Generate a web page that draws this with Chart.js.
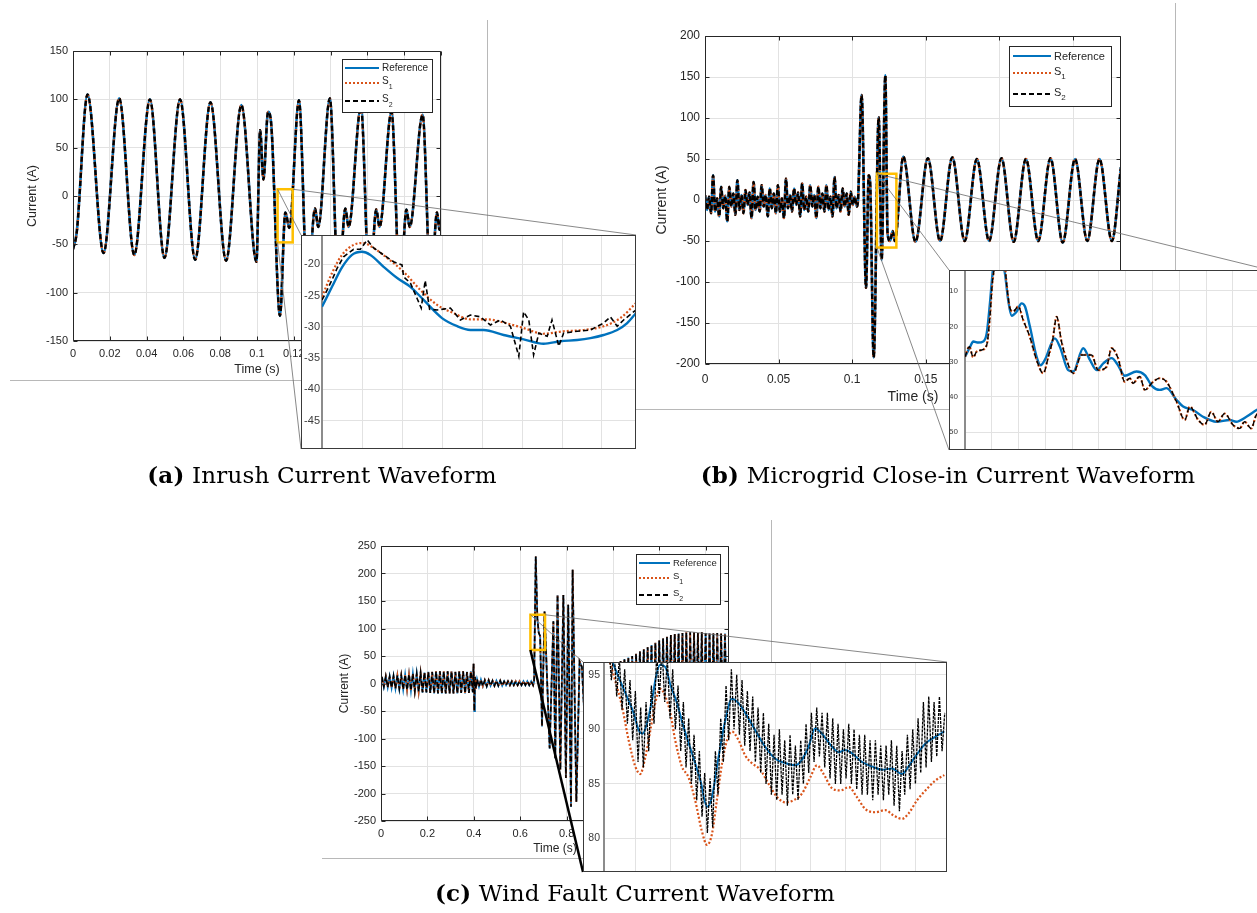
<!DOCTYPE html>
<html>
<head>
<meta charset="utf-8">
<script src="https://cdn.jsdelivr.net/npm/chart.js@4.4.1/dist/chart.umd.min.js"></script>
<style>
  html, body { margin: 0; padding: 0; background: #fff; }
  body { width: 1257px; height: 913px; position: relative; overflow: hidden; }
  canvas { position: absolute; }
  .inset { position: absolute; box-sizing: border-box; border: 1px solid #3a3a3a; background: #fff; overflow: hidden; }
  .inset canvas { left: 0; top: 0; }
  .caption { position: absolute; font-family: 'DejaVu Serif', serif; font-size: 23px; line-height: 26px;
             letter-spacing: 0.2px; color: #000; white-space: nowrap; transform: translateX(-50%); z-index: 5; }
</style>
</head>
<body>
<canvas id="frames" width="1257" height="913" style="left:0;top:0;z-index:0"></canvas>
<canvas id="mainA" style="z-index:1"></canvas>
<canvas id="mainB" style="z-index:1"></canvas>
<canvas id="mainC" style="z-index:1"></canvas>
<canvas id="links" width="1257" height="913" style="left:0;top:0;z-index:2"></canvas>
<div class="inset" id="insetABox" style="left:301px;top:235px;width:335px;height:214px;z-index:3"><canvas id="insetA" width="333" height="212"></canvas></div>
<div class="inset" id="insetBBox" style="left:949px;top:270px;width:320px;height:180px;z-index:3"><canvas id="insetB" width="318" height="178"></canvas></div>
<div class="inset" id="insetCBox" style="left:583px;top:662px;width:364px;height:210px;z-index:3"><canvas id="insetC" width="362" height="208"></canvas></div>
<div class="caption" style="left:322px;top:462px"><b>(a)</b> Inrush Current Waveform</div>
<div class="caption" style="left:948px;top:462px"><b>(b)</b> Microgrid Close-in Current Waveform</div>
<div class="caption" style="left:635px;top:880px"><b>(c)</b> Wind Fault Current Waveform</div>
<script>
// ---------- (a) inrush: extremes of the waveform (S1 and S2 lie on the reference at this scale)
const aTime = [0, 0.002, 0.0079, 0.0166, 0.0251, 0.0333, 0.0418, 0.0497, 0.0582, 0.0664, 0.0747, 0.0832,
  0.0915, 0.0997, 0.1017, 0.1035, 0.1060, 0.1077, 0.1125, 0.1154, 0.1176, 0.1228, 0.1275, 0.1315, 0.1333,
  0.1396, 0.1443, 0.1480, 0.1498, 0.1565, 0.1612, 0.1648, 0.1666, 0.1731, 0.1778, 0.1812, 0.1830, 0.1900,
  0.1945, 0.1978, 0.1992, 0.2000];
const aCurrent = [-55, -38, 105, -59, 101, -61, 100, -64, 100, -66, 97, -67, 94, -68, 68, 17, 87, 75, -124,
  -17, -33, 99, -100, -13, -32, 101, -100, -13, -32, 92, -100, -14, -32, 87, -100, -14, -32, 84, -100, -17,
  -35, -25];

// (a) zoomed window
const aInsetRefT = [0.11100, 0.11125, 0.11150, 0.11175, 0.11200, 0.11221, 0.11254, 0.11288, 0.11321, 0.11354,
  0.11400, 0.11438, 0.11471, 0.11504, 0.11554, 0.11604, 0.11654, 0.11696, 0.11738, 0.11771, 0.11804, 0.11838,
  0.11863, 0.11885];
const aInsetRef = [-26.8, -23.6, -20.5, -18.5, -18.0, -18.5, -20.4, -22.2, -23.6, -25.7, -28.6, -29.9, -30.5,
  -30.5, -31.3, -32.0, -32.7, -32.3, -32.1, -31.8, -31.3, -30.5, -29.4, -27.8];
const aInsetS1T = [0.11100, 0.11125, 0.11150, 0.11179, 0.11204, 0.11229, 0.11263, 0.11304, 0.11346, 0.11388,
  0.11429, 0.11471, 0.11513, 0.11554, 0.11604, 0.11654, 0.11704, 0.11754, 0.11804, 0.11846, 0.11885];
const aInsetS1 = [-25.2, -21.4, -18.5, -16.9, -16.6, -17.4, -19.0, -21.2, -24.1, -26.5, -27.8, -28.8, -28.8,
  -29.3, -30.2, -31.1, -30.7, -30.5, -29.9, -28.6, -26.2];
const aInsetS2T = [0.11100, 0.11113, 0.11125, 0.11138, 0.11154, 0.11179, 0.11196, 0.11213, 0.11229, 0.11254,
  0.11279, 0.11300, 0.11304, 0.11321, 0.11338, 0.11348, 0.11358, 0.11369, 0.11388, 0.11421, 0.11446, 0.11471,
  0.11496, 0.11521, 0.11546, 0.11571, 0.11592, 0.11604, 0.11617, 0.11629, 0.11642, 0.11663, 0.11675, 0.11692,
  0.11704, 0.11738, 0.11771, 0.11804, 0.11821, 0.11838, 0.11854, 0.11885];
const aInsetS2 = [-25.7, -24.1, -22.5, -20.6, -18.8, -17.6, -17.6, -16.1, -17.4, -18.5, -19.6, -20.1, -22.0,
  -23.0, -25.5, -27.0, -22.6, -27.2, -27.3, -27.0, -28.9, -28.1, -28.4, -29.7, -28.9, -29.9, -34.7, -27.6,
  -28.9, -34.5, -31.0, -31.5, -28.9, -33.1, -31.0, -30.7, -30.5, -29.4, -28.4, -29.9, -28.9, -27.3];

// ---------- (b) microgrid close-in
const bPreFaultStep = 0.001375;   // spacing of the readings below, from t = 0
const bPreFault = [6, -12, 4, -16, 30, -14, 2, -20, 16, -10, 5, -26, 16, -8, 8, -18, 24, -12, 6, -16, 12, -6,
  9, -22, 22, -12, 4, -14, 18, -8, 6, -20, 14, -10, 8, -16, 18, -14, 2, -22, 26, -10, 6, -14, 14, -6, 9, -20,
  20, -12, 4, -14, 18, -8, 6, -22, 16, -10, 8, -14, 18, -12, 4, -20, 28, -10, 6, -14, 14, -8, 8, -18, 10, -6,
  4, -8];
const bFaultT = [0.1040, 0.1064, 0.1094, 0.1112, 0.1122, 0.1146, 0.1180, 0.1200, 0.1225, 0.1240, 0.1257,
  0.1275, 0.1290];
const bFaultV = [2, 128, -107, 30, 20, -192, 101, -73, 152, -40, -50, -38, -50];
const bPostT = [0.1347, 0.1430, 0.1514, 0.1597, 0.1680, 0.1764, 0.1847, 0.1930, 0.2014, 0.2097, 0.2180,
  0.2264, 0.2347, 0.2430, 0.2514, 0.2597, 0.2680, 0.2764, 0.2826];
const bPostV = [53, -51, 51, -50, 52, -50, 50, -50, 51, -51, 50, -50, 51, -52, 50, -50, 50, -50, 40];

const bInsetRefT = [0.11700, 0.11719, 0.11731, 0.11750, 0.11768, 0.11781, 0.11793, 0.11803, 0.11824, 0.11849,
  0.11861, 0.11874, 0.11893, 0.11911, 0.11924, 0.11942, 0.11967, 0.11982, 0.11998, 0.12035, 0.12054, 0.12085,
  0.12104, 0.12141, 0.12166, 0.12191, 0.12216, 0.12247, 0.12271, 0.12296, 0.12340, 0.12371, 0.12399, 0.12427,
  0.12452, 0.12489, 0.12514, 0.12551, 0.12588, 0.12638, 0.12688, 0.12712, 0.12750, 0.12788, 0.12830];
const bInsetRef = [-28.6, -25.8, -24.3, -24.6, -24.3, -22, -13.5, -5, 3, -5, -12.5, -17, -15.8, -13.5, -14.4,
  -20, -28.6, -31, -29.5, -23.4, -25.8, -32.4, -32.8, -26.2, -29.5, -32.4, -30.5, -29, -31, -34, -32.8, -33.8,
  -37, -38, -37.5, -40.8, -42.7, -43.7, -45.6, -47, -46.5, -47, -45.6, -43.7, -42];
// S1 and S2 coincide in this window
const bInsetST = [0.11700, 0.11716, 0.11731, 0.11743, 0.11762, 0.11781, 0.11793, 0.11803, 0.11843, 0.11855,
  0.11868, 0.11880, 0.11899, 0.11917, 0.11942, 0.11967, 0.11992, 0.12011, 0.12027, 0.12042, 0.12060, 0.12079,
  0.12104, 0.12135, 0.12172, 0.12197, 0.12228, 0.12247, 0.12271, 0.12296, 0.12315, 0.12327, 0.12352, 0.12371,
  0.12402, 0.12427, 0.12452, 0.12489, 0.12520, 0.12539, 0.12570, 0.12594, 0.12619, 0.12644, 0.12669, 0.12700,
  0.12725, 0.12743, 0.12768, 0.12788, 0.12830];
const bInsetS = [-28.6, -25.8, -28.8, -27.2, -26.7, -25.3, -17.3, -7, 2, -7.8, -14.9, -15.8, -14.4, -18.2, -23,
  -29.5, -33.3, -28.6, -23.9, -17.3, -24.3, -29.5, -33.3, -28.1, -28.1, -32.4, -31.5, -26.2, -29, -35.7, -34.7,
  -36.1, -34.2, -38, -35.7, -34.7, -35.7, -41.3, -46.5, -42.7, -46.5, -47.9, -44.2, -47, -44.7, -47.9, -48.9,
  -47, -48.9, -45, -44];

// ---------- (c) wind fault: 60 Hz stretches listed as peak / trough per cycle
const cEarlyStart = 0.004;
const cEarlyPeaks = [12, 13, 13, 14, 15, 15, 16, 17, 18, 18, 19, 20, 21, 21, 22, 22, 22, 22, 22, 21, 22, 22, 21, 22];
const cEarlyTroughs = [-6, -7, -8, -9, -10, -11, -12, -13, -14, -15, -16, -16, -17, -18, -18, -18, -18, -18, -18,
  -18, -17, -18, -17, -16];
const cSpikeT = [0.399, 0.402, 0.405, 0.409, 0.413];
const cSpikeV = [36, -50, 12, -10, 5];
const cQuietStart = 0.414;
const cQuietPeaks = [8, 7, 6, 6, 5, 5, 5, 4, 4, 4, 4, 4, 4, 4, 4];
const cQuietTroughs = [-6, -5, -5, -4, -4, -4, -4, -3, -3, -3, -3, -3, -3, -3, -3];
const cFaultT = [0.660, 0.667, 0.674, 0.680, 0.686, 0.694, 0.705, 0.727, 0.743, 0.751, 0.761, 0.773, 0.786,
  0.797, 0.807, 0.819, 0.826, 0.842, 0.856];
const cFaultV = [4, 231, 118, 92, 86, -78, 131, -118, 113, -136, 161, -157, 161, -172, 143, -224, 207, -215, 40];
const cLateStart = 0.866;
const cLatePeaks = [30, 28, 30, 31, 32, 33, 34, 35, 37, 39, 41, 44, 47, 50, 54, 58, 62, 66, 70, 74, 78, 82, 85,
  88, 90, 91, 92, 93, 93, 93, 92, 93, 92, 92, 91, 92, 91, 91];
const cLateTroughs = [-40, -36, -34, -33, -34, -35, -36, -37, -39, -41, -43, -46, -49, -52, -56, -60, -64, -68,
  -72, -76, -80, -84, -87, -89, -91, -92, -93, -93, -94, -93, -93, -92, -93, -92, -92, -93, -92, -92];
const cEndT = [1.5];
const cEndV = [55];

const cInsetRefT = [0.64424, 0.64452, 0.64476, 0.64495, 0.64510, 0.64521, 0.64533, 0.64548, 0.64559, 0.64571,
  0.64586, 0.64600, 0.64619, 0.64638, 0.64662, 0.64686, 0.64705, 0.64719, 0.64738, 0.64757, 0.64776, 0.64795,
  0.64814, 0.64843, 0.64871, 0.64900, 0.64929, 0.64957, 0.64976, 0.64995, 0.65014, 0.65033, 0.65062, 0.65081,
  0.65100, 0.65119, 0.65148, 0.65176, 0.65205, 0.65233, 0.65262, 0.65281, 0.65300, 0.65329, 0.65357, 0.65383];
const cInsetRef = [97, 94.8, 93.0, 91.5, 89.9, 89.6, 90.5, 92.7, 94.8, 95.9, 95.7, 94.1, 92.4, 90.2, 87.8, 85.3,
  82.9, 83.8, 87.5, 90.8, 92.8, 92.4, 91.5, 89.9, 88.4, 87.3, 86.9, 86.7, 87.2, 88.4, 90.1, 89.6, 88.4, 87.9,
  88.1, 87.8, 87.0, 86.6, 86.3, 86.4, 85.9, 86.6, 87.5, 88.7, 89.3, 89.8];
const cInsetS1T = [0.64424, 0.64443, 0.64462, 0.64481, 0.64500, 0.64514, 0.64529, 0.64543, 0.64557, 0.64571,
  0.64586, 0.64600, 0.64614, 0.64633, 0.64652, 0.64671, 0.64690, 0.64705, 0.64719, 0.64733, 0.64748, 0.64762,
  0.64776, 0.64795, 0.64814, 0.64833, 0.64857, 0.64881, 0.64905, 0.64929, 0.64952, 0.64976, 0.65000, 0.65019,
  0.65038, 0.65062, 0.65086, 0.65110, 0.65133, 0.65157, 0.65186, 0.65214, 0.65238, 0.65262, 0.65281, 0.65305,
  0.65329, 0.65357, 0.65383];
const cInsetS1 = [96.5, 94.4, 92.1, 89.0, 86.6, 85.9, 87.5, 89.9, 92.4, 93.7, 93.0, 91.5, 89.0, 86.6, 85.6, 83.5,
  80.7, 79.4, 80.4, 83.5, 86.9, 89.0, 89.8, 89.0, 87.6, 86.9, 86.3, 85.0, 83.8, 83.3, 83.5, 84.1, 85.6, 86.7,
  85.9, 84.6, 84.4, 84.7, 83.8, 82.7, 82.4, 82.6, 82.1, 81.8, 82.3, 83.5, 84.4, 85.3, 85.8];
const cInsetS2Start = 0.64424, cInsetS2Step = 0.0000762;   // S2 readings, evenly spaced
const cInsetS2 = [98, 94.5, 97.5, 93.0, 96.5, 91.8, 95.5, 90.5, 94.5, 89.0,
  93.5, 87.0, 92.0, 86.5, 92.5, 88.0, 94.0, 90.5, 97.0, 93.0,
  97.5, 92.5, 96.5, 91.0, 95.5, 90.0, 94.0, 88.0, 92.5, 86.5,
  91.0, 85.0, 89.5, 83.5, 88.0, 82.0, 86.0, 80.5, 85.5, 81.0,
  88.0, 84.0, 91.0, 87.0, 94.0, 89.0, 95.5, 90.0, 95.0, 89.5,
  94.5, 88.5, 93.5, 88.0, 93.0, 87.0, 92.0, 86.0, 91.5, 85.0,
  90.5, 84.0, 89.5, 83.5, 90.0, 84.0, 89.0, 83.0, 89.5, 84.0,
  88.5, 83.5, 89.0, 85.0, 90.5, 86.0, 91.5, 87.0, 92.0, 87.5,
  91.5, 86.5, 91.5, 85.5, 91.0, 85.0, 90.5, 85.0, 90.0, 85.5,
  90.5, 85.0, 90.0, 84.5, 89.5, 84.0, 89.5, 84.0, 89.0, 83.5,
  89.0, 84.0, 88.5, 83.5, 88.5, 84.0, 89.0, 83.0, 88.5, 82.5,
  88.0, 84.0, 89.5, 84.5, 90.0, 85.0, 91.0, 86.0, 92.5, 86.5,
  93.0, 87.0, 92.5, 87.5, 93.0, 88.0, 91.5];

// zoomed windows marked on the main plots
const aZoom = {x0: 0.1112, x1: 0.1194, y0: -48, y1: 7};
const bZoom = {x0: 0.1168, x1: 0.1300, y0: -58, y1: 32};
const cZoom = {x0: 0.644, x1: 0.707, y0: 61, y1: 125};

// ---------- helpers
const BLUE = '#0072BD', ORANGE = '#D95319', BLACK = '#000000';
const AXIS = '#262626', GRID = '#e2e2e2';
Chart.defaults.font.family = "'Liberation Sans', Arial, sans-serif";
Chart.defaults.animation = false;
Chart.defaults.events = [];
Chart.defaults.plugins.legend.display = false;
Chart.defaults.plugins.tooltip.enabled = false;

function pts(xs, ys) {
  return xs.map((x, i) => ({x: x, y: ys[i]}));
}

function cycles(t0, peaks, troughs) {
  const out = [];
  peaks.forEach((p, k) => {
    out.push({x: t0 + k / 60, y: p});
    out.push({x: t0 + k / 60 + 1 / 120, y: troughs[k]});
  });
  return out;
}

function series(label, data, width, smooth, dash) {
  const st = {
    'Reference': {color: BLUE, dash: [], order: 3},
    'S1': {color: ORANGE, dash: [2, 2], order: 2},
    'S2': {color: BLACK, dash: [5, 3], order: 1}
  }[label];
  return {
    label: label, data: data, showLine: true, pointRadius: 0, borderWidth: width,
    borderColor: st.color, borderDash: dash || st.dash, order: st.order, fill: false,
    tension: 0, cubicInterpolationMode: smooth ? 'monotone' : 'default', legendDash: st.dash
  };
}

function drawLegend(ctx, chart, lg) {
  const x = Math.round(lg.x - lg.ox) + 0.5, y = Math.round(lg.y - lg.oy) + 0.5;
  ctx.fillStyle = '#fff';
  ctx.fillRect(x, y, lg.w, lg.h);
  ctx.strokeStyle = AXIS;
  ctx.lineWidth = 1;
  ctx.setLineDash([]);
  ctx.strokeRect(x, y, lg.w, lg.h);
  chart.data.datasets.forEach((ds, i) => {
    const ry = lg.rows[i] - lg.oy;
    ctx.strokeStyle = ds.borderColor;
    ctx.lineWidth = 2;
    ctx.setLineDash(ds.legendDash);
    ctx.beginPath();
    ctx.moveTo(lg.line0 - lg.ox, ry);
    ctx.lineTo(lg.line1 - lg.ox, ry);
    ctx.stroke();
    ctx.setLineDash([]);
    ctx.fillStyle = AXIS;
    ctx.textBaseline = 'middle';
    ctx.textAlign = 'left';
    const tx = lg.text - lg.ox;
    const m = /^S(\d)$/.exec(ds.label);
    ctx.font = lg.font + "px 'Liberation Sans', Arial, sans-serif";
    if (m) {
      ctx.fillText('S', tx, ry - 1.5);
      const w = ctx.measureText('S').width;
      ctx.font = Math.round(lg.font * 0.72) + "px 'Liberation Sans', Arial, sans-serif";
      ctx.fillText(m[1], tx + w, ry + lg.font * 0.38);
    } else {
      ctx.fillText(ds.label, tx, ry + 0.5);
    }
  });
}

const matlabFrame = {
  id: 'matlabFrame',
  afterDatasetsDraw(chart, args, o) {
    const ctx = chart.ctx, a = chart.chartArea;
    const sx = chart.scales.x, sy = chart.scales.y;
    ctx.save();
    if (o.zoom) {
      const z = o.zoom;
      const x0 = sx.getPixelForValue(z.x0), x1 = sx.getPixelForValue(z.x1);
      const y0 = sy.getPixelForValue(z.y1), y1 = sy.getPixelForValue(z.y0);
      ctx.strokeStyle = '#FFBF00';
      ctx.lineWidth = 2.5;
      ctx.strokeRect(x0, y0, x1 - x0, y1 - y0);
    }
    if (o.box) {
      const L = Math.round(a.left) + 0.5, R = Math.round(a.right) - 0.5;
      const T = Math.round(a.top) + 0.5, B = Math.round(a.bottom) - 0.5;
      ctx.strokeStyle = AXIS;
      ctx.lineWidth = 1;
      ctx.beginPath();
      ctx.rect(L, T, R - L, B - T);
      sx.ticks.forEach(t => {
        const px = Math.round(sx.getPixelForValue(t.value)) + 0.5;
        ctx.moveTo(px, B); ctx.lineTo(px, B - 4);
        ctx.moveTo(px, T); ctx.lineTo(px, T + 4);
      });
      sy.ticks.forEach(t => {
        const py = Math.round(sy.getPixelForValue(t.value)) + 0.5;
        ctx.moveTo(L, py); ctx.lineTo(L + 4, py);
        ctx.moveTo(R, py); ctx.lineTo(R - 4, py);
      });
      ctx.stroke();
    }
    if (o.legend) drawLegend(ctx, chart, o.legend);
    ctx.restore();
  }
};

function makeMain(id, g, r, datasets, legend, zoom) {
  const cv = document.getElementById(id);
  cv.width = g.cw; cv.height = g.ch;
  cv.style.left = g.cx + 'px'; cv.style.top = g.cy + 'px';
  const tickFont = {size: g.tick};
  const titleFont = {size: g.title};
  return new Chart(cv, {
    type: 'scatter',
    data: {datasets: datasets},
    plugins: [matlabFrame],
    options: {
      responsive: false, devicePixelRatio: 1,
      layout: {padding: {left: 0, top: g.top - g.cy, right: g.cx + g.cw - g.right, bottom: 0}},
      elements: {point: {radius: 0}},
      scales: {
        x: {
          type: 'linear', min: r.xmin, max: r.xmax,
          ticks: {stepSize: r.xstep, includeBounds: false, autoSkip: false, maxRotation: 0, padding: g.xTickPad,
                  color: AXIS, font: tickFont, callback: v => String(+v.toFixed(4))},
          grid: {color: GRID, drawTicks: false}, border: {display: false},
          title: {display: true, text: 'Time (s)', color: AXIS, font: titleFont, padding: {top: 0, bottom: g.xTitlePad}},
          afterFit: s => { s.height = g.cy + g.ch - g.bottom; s.paddingLeft = 0; s.paddingRight = 0; }
        },
        y: {
          type: 'linear', min: r.ymin, max: r.ymax,
          ticks: {stepSize: r.ystep, includeBounds: false, autoSkip: false, padding: g.yTickPad, color: AXIS, font: tickFont},
          grid: {color: GRID, drawTicks: false}, border: {display: false},
          title: {display: true, text: 'Current (A)', color: AXIS, font: titleFont, padding: {top: g.yTitlePad, bottom: 0}},
          afterFit: s => { s.width = g.left - g.cx; s.paddingTop = 0; s.paddingBottom = 0; }
        }
      },
      plugins: {matlabFrame: {box: true, zoom: zoom, legend: Object.assign({ox: g.cx, oy: g.cy}, legend)}}
    }
  });
}

function makeInset(id, g, r, datasets) {
  return new Chart(document.getElementById(id), {
    type: 'scatter',
    data: {datasets: datasets},
    options: {
      responsive: false, devicePixelRatio: 1,
      layout: {padding: 0},
      elements: {point: {radius: 0}},
      scales: {
        x: {
          type: 'linear', min: r.xmin, max: r.xmax,
          ticks: {display: false, stepSize: r.xstep, includeBounds: false},
          grid: {color: GRID, drawTicks: false}, border: {display: false},
          afterFit: s => { s.height = 0; s.paddingLeft = 0; s.paddingRight = 0; }
        },
        y: {
          type: 'linear', min: r.ymin, max: r.ymax,
          ticks: {stepSize: r.ystep, includeBounds: false, padding: g.tickPad, color: '#3c3c3c', font: {size: g.tick}},
          grid: {color: GRID, drawTicks: false}, border: {display: true, color: '#8c8c8c', width: 2},
          afterFit: s => { s.width = g.axisW; s.paddingTop = 0; s.paddingBottom = 0; }
        }
      }
    }
  });
}

// ---------- build
const aWave = pts(aTime, aCurrent);
const chartA = makeMain('mainA',
  {cx: 0, cy: 40, cw: 446, ch: 350, left: 73, top: 51, right: 441, bottom: 341,
   tick: 11, title: 12.5, xTickPad: 6, yTickPad: 5, xTitlePad: 12.8, yTitlePad: 25.5},
  {xmin: 0, xmax: 0.2, xstep: 0.02, ymin: -150, ymax: 150, ystep: 50},
  [series('Reference', aWave, 2.6, true), series('S1', aWave, 2.4, true), series('S2', aWave, 2.4, true)],
  {x: 342, y: 59, w: 90, h: 53, rows: [68, 83, 101], line0: 345, line1: 379, text: 382, font: 10},
  aZoom);

const bWave = bPreFault.map((v, i) => ({x: i * bPreFaultStep, y: v}))
  .concat(pts(bFaultT, bFaultV), pts(bPostT, bPostV));
const chartB = makeMain('mainB',
  {cx: 640, cy: 10, cw: 490, ch: 400, left: 705, top: 36, right: 1121, bottom: 364,
   tick: 12, title: 14, xTickPad: 8, yTickPad: 5, xTitlePad: 4.9, yTitlePad: 13.3},
  {xmin: 0, xmax: 0.2826, xstep: 0.05, ymin: -200, ymax: 200, ystep: 50},
  [series('Reference', bWave, 2.6, true), series('S1', bWave, 2.6, true), series('S2', bWave, 2.4, true)],
  {x: 1009, y: 46, w: 102, h: 60, rows: [56, 73, 94], line0: 1013, line1: 1051, text: 1054, font: 11},
  bZoom);

const cWave = cycles(cEarlyStart, cEarlyPeaks, cEarlyTroughs)
  .concat(pts(cSpikeT, cSpikeV), cycles(cQuietStart, cQuietPeaks, cQuietTroughs), pts(cFaultT, cFaultV),
          cycles(cLateStart, cLatePeaks, cLateTroughs), pts(cEndT, cEndV));
const chartC = makeMain('mainC',
  {cx: 322, cy: 530, cw: 412, ch: 332, left: 381, top: 546, right: 729, bottom: 821,
   tick: 11, title: 12, xTickPad: 6, yTickPad: 5, xTitlePad: 6.5, yTitlePad: 15.8},
  {xmin: 0, xmax: 1.5, xstep: 0.2, ymin: -250, ymax: 250, ystep: 50},
  [series('Reference', cWave, 1.8, false), series('S1', cWave, 1.8, false), series('S2', cWave, 1.6, false)],
  {x: 636, y: 554, w: 84, h: 50, rows: [563, 578, 595], line0: 639, line1: 670, text: 673, font: 9.5},
  cZoom);

makeInset('insetA', {axisW: 20, tick: 11, tickPad: 2},
  {xmin: 0.111, xmax: 0.118825, xstep: 0.001, ymin: -49.36, ymax: -15.48, ystep: 5},
  [series('Reference', pts(aInsetRefT, aInsetRef), 2.4, true),
   series('S1', pts(aInsetS1T, aInsetS1), 2.2, true),
   series('S2', pts(aInsetS2T, aInsetS2), 1.6, false)]);

makeInset('insetB', {axisW: 15, tick: 8, tickPad: 7},
  {xmin: 0.117, xmax: 0.128306, xstep: 0.001, ymin: -54.73, ymax: -4.34, ystep: 10},
  [series('Reference', pts(bInsetRefT, bInsetRef), 2.4, true),
   series('S1', pts(bInsetST, bInsetS), 2.2, true),
   series('S2', pts(bInsetST, bInsetS), 1.4, true)]);

makeInset('insetC', {axisW: 20, tick: 10.5, tickPad: 4},
  {xmin: 0.644106, xmax: 0.653877, xstep: 0.001, ymin: 77.02, ymax: 96.07, ystep: 5},
  [series('Reference', pts(cInsetRefT, cInsetRef), 2, true),
   series('S1', pts(cInsetS1T, cInsetS1), 2.2, true),
   series('S2', cInsetS2.map((v, i) => ({x: cInsetS2Start + i * cInsetS2Step, y: v})), 1.3, false, [3, 1])]);

// ---------- figure-window edges behind everything
const fr = document.getElementById('frames').getContext('2d');
fr.strokeStyle = '#b8b8b8';
fr.lineWidth = 1;
[[487.5, 20, 487.5, 235], [10, 380.5, 301, 380.5],
 [1175.5, 3, 1175.5, 270], [636, 409.5, 949, 409.5],
 [771.5, 520, 771.5, 662], [322, 858.5, 583, 858.5]].forEach(l => {
  fr.beginPath(); fr.moveTo(l[0], l[1]); fr.lineTo(l[2], l[3]); fr.stroke();
});

// ---------- lines from each zoom box to its inset
const lk = document.getElementById('links').getContext('2d');
function zoomLinks(chart, zoom, insetId, pairs) {
  const cv = chart.canvas, ox = parseFloat(cv.style.left), oy = parseFloat(cv.style.top);
  const sx = chart.scales.x, sy = chart.scales.y;
  const box = {
    tl: [ox + sx.getPixelForValue(zoom.x0), oy + sy.getPixelForValue(zoom.y1)],
    tr: [ox + sx.getPixelForValue(zoom.x1), oy + sy.getPixelForValue(zoom.y1)],
    bl: [ox + sx.getPixelForValue(zoom.x0), oy + sy.getPixelForValue(zoom.y0)]
  };
  const el = document.getElementById(insetId);
  const ix = el.offsetLeft, iy = el.offsetTop, iw = el.offsetWidth, ih = el.offsetHeight;
  const ins = {tl: [ix, iy], tr: [ix + iw, iy], bl: [ix, iy + ih]};
  pairs.forEach(p => {
    lk.strokeStyle = p[2] ? '#000' : '#6a6a6a';
    lk.lineWidth = p[2] ? 2.5 : 0.8;
    lk.beginPath();
    lk.moveTo(box[p[0]][0], box[p[0]][1]);
    lk.lineTo(ins[p[1]][0], ins[p[1]][1]);
    lk.stroke();
  });
}
zoomLinks(chartA, aZoom, 'insetABox', [['tl', 'tl'], ['tr', 'tr'], ['bl', 'bl']]);
zoomLinks(chartB, bZoom, 'insetBBox', [['tl', 'tl'], ['tl', 'tr'], ['bl', 'bl']]);
zoomLinks(chartC, cZoom, 'insetCBox', [['tl', 'tl'], ['tr', 'tr'], ['bl', 'bl', true]]);
</script>
</body>
</html>
